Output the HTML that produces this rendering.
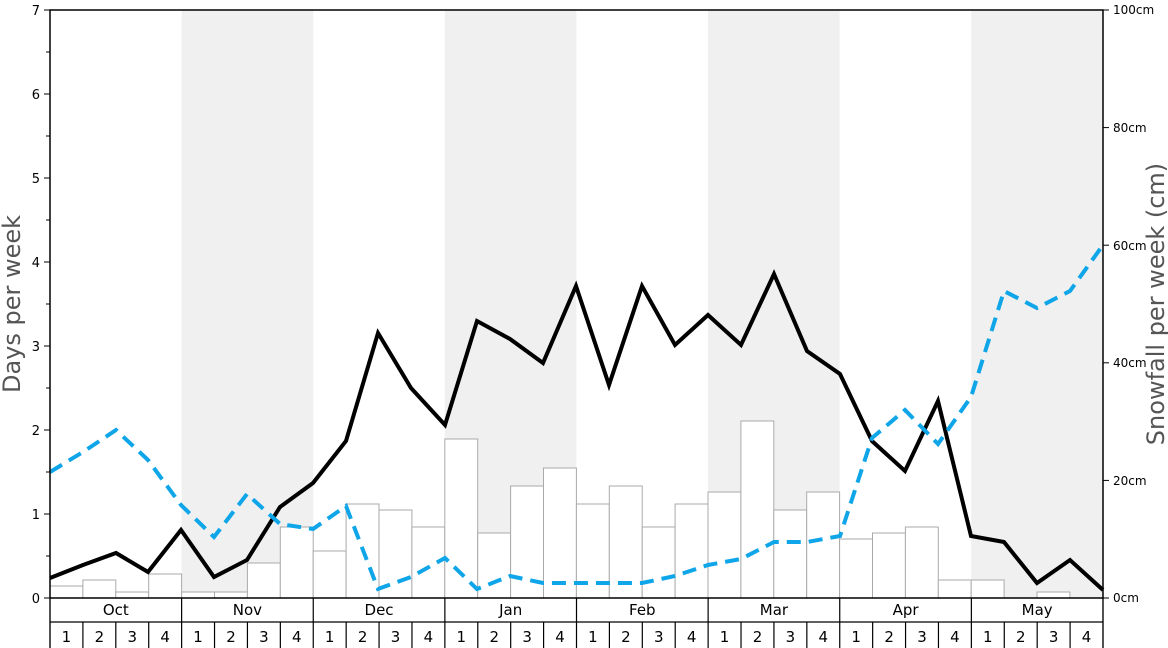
<!DOCTYPE html>
<html><head><meta charset="utf-8"><style>
body{margin:0;background:#fff}
svg{display:block;font-family:"DejaVu Sans","Liberation Sans",sans-serif}
</style></head><body>
<svg width="1168" height="648" viewBox="0 0 1168 648">
<rect x="0" y="0" width="1168" height="648" fill="#fff"/>
<g fill="#f0f0f0">
<rect x="181.6" y="10" width="131.6" height="588"/>
<rect x="444.8" y="10" width="131.6" height="588"/>
<rect x="708" y="10" width="131.6" height="588"/>
<rect x="971.2" y="10" width="131.8" height="588"/>
</g>
<g fill="#fff" stroke="#aaa" stroke-width="1">
<rect x="50" y="586" width="32.9" height="12"/>
<rect x="82.9" y="580" width="32.9" height="18"/>
<rect x="115.8" y="592" width="32.9" height="6"/>
<rect x="148.7" y="574" width="32.9" height="24"/>
<rect x="181.6" y="592" width="32.9" height="6"/>
<rect x="214.5" y="592" width="32.9" height="6"/>
<rect x="247.4" y="563" width="32.9" height="35"/>
<rect x="280.3" y="527" width="32.9" height="71"/>
<rect x="313.2" y="551" width="32.9" height="47"/>
<rect x="346.1" y="504" width="32.9" height="94"/>
<rect x="379" y="510" width="32.9" height="88"/>
<rect x="411.9" y="527" width="32.9" height="71"/>
<rect x="444.8" y="439" width="32.9" height="159"/>
<rect x="477.7" y="533" width="32.9" height="65"/>
<rect x="510.6" y="486" width="32.9" height="112"/>
<rect x="543.5" y="468" width="32.9" height="130"/>
<rect x="576.4" y="504" width="32.9" height="94"/>
<rect x="609.3" y="486" width="32.9" height="112"/>
<rect x="642.2" y="527" width="32.9" height="71"/>
<rect x="675.1" y="504" width="32.9" height="94"/>
<rect x="708" y="492" width="32.9" height="106"/>
<rect x="740.9" y="421" width="32.9" height="177"/>
<rect x="773.8" y="510" width="32.9" height="88"/>
<rect x="806.7" y="492" width="32.9" height="106"/>
<rect x="839.6" y="539" width="32.9" height="59"/>
<rect x="872.5" y="533" width="32.9" height="65"/>
<rect x="905.4" y="527" width="32.9" height="71"/>
<rect x="938.3" y="580" width="32.9" height="18"/>
<rect x="971.2" y="580" width="32.9" height="18"/>
<rect x="1037" y="592" width="32.9" height="6"/>
</g>
<polyline fill="none" stroke="#000" stroke-width="4" stroke-linejoin="miter" points="50,578 83,565 116,553 148,572 181,530 214,577 247,560 280,507 313,483 346,441 378,333 411,388 445,425 477,321 510,339 543,363 576,286 609,385 642,286 675,345 708,315 741,345 774,274 807,351 840,374 872,441 905,471 938,401 971,536 1004,542 1037,583 1070,560 1103,590"/>
<polyline fill="none" stroke="#0ea5e9" stroke-width="4" stroke-dasharray="14,8" points="50,472 83,452 116,430 148,460 181,505 214,537 247,494 280,524 313,529 346,506 378,589 411,577 445,558 477,589 510,576 543,583 576,583 609,583 642,583 675,576 708,565 741,559 774,542 807,542 840,536 872,438 905,410 938,444 971,397 1004,291 1037,308 1070,291 1103,245"/>
<rect x="50" y="10" width="1053" height="588" fill="none" stroke="#000" stroke-width="1.5"/>
<g stroke="#000" stroke-width="1">
<line x1="44" y1="598" x2="50" y2="598"/><line x1="44" y1="514" x2="50" y2="514"/><line x1="44" y1="430" x2="50" y2="430"/><line x1="44" y1="346" x2="50" y2="346"/><line x1="44" y1="262" x2="50" y2="262"/><line x1="44" y1="178" x2="50" y2="178"/><line x1="44" y1="94" x2="50" y2="94"/><line x1="44" y1="10" x2="50" y2="10"/>
<line x1="46" y1="556" x2="50" y2="556"/><line x1="46" y1="472" x2="50" y2="472"/><line x1="46" y1="388" x2="50" y2="388"/><line x1="46" y1="304" x2="50" y2="304"/><line x1="46" y1="220" x2="50" y2="220"/><line x1="46" y1="136" x2="50" y2="136"/><line x1="46" y1="52" x2="50" y2="52"/>
<line x1="1103" y1="598" x2="1109" y2="598"/><line x1="1103" y1="480.4" x2="1109" y2="480.4"/><line x1="1103" y1="362.8" x2="1109" y2="362.8"/><line x1="1103" y1="245.2" x2="1109" y2="245.2"/><line x1="1103" y1="127.6" x2="1109" y2="127.6"/><line x1="1103" y1="10" x2="1109" y2="10"/>
</g>
<g font-size="13" text-anchor="end" fill="#000">
<text x="40" y="603">0</text><text x="40" y="519">1</text><text x="40" y="435">2</text><text x="40" y="351">3</text><text x="40" y="267">4</text><text x="40" y="183">5</text><text x="40" y="99">6</text><text x="40" y="15">7</text>
</g>
<g font-size="12" fill="#000">
<text x="1113" y="602">0cm</text><text x="1113" y="485">20cm</text><text x="1113" y="367">40cm</text><text x="1113" y="250">60cm</text><text x="1113" y="132">80cm</text><text x="1113" y="14">100cm</text>
</g>
<text transform="translate(20,304) rotate(-90)" font-size="24" fill="#555" text-anchor="middle">Days per week</text>
<text transform="translate(1164,304) rotate(-90)" font-size="24" fill="#555" text-anchor="middle">Snowfall per week (cm)</text>
<g stroke="#000" stroke-width="1.2" fill="none">
<line x1="50" y1="622" x2="1103" y2="622"/>
<line x1="50" y1="598" x2="50" y2="648"/><line x1="1103" y1="598" x2="1103" y2="648"/>
</g>
<g stroke="#000" stroke-width="1.2" id="ticks"></g>
<g id="labels" font-size="15" text-anchor="middle" fill="#000"></g>
<script>
var ns="http://www.w3.org/2000/svg",t=document.getElementById("ticks"),l=document.getElementById("labels");
var m=["Oct","Nov","Dec","Jan","Feb","Mar","Apr","May"],w=32.906;
for(var i=0;i<=32;i++){var x=50+i*w;var ln=document.createElementNS(ns,"line");ln.setAttribute("x1",x);ln.setAttribute("x2",x);ln.setAttribute("y1",i%4==0?598:622);ln.setAttribute("y2",648);t.appendChild(ln);}
for(var i=0;i<32;i++){var tx=document.createElementNS(ns,"text");tx.setAttribute("x",50+(i+.5)*w);tx.setAttribute("y",642);tx.textContent=(i%4)+1;l.appendChild(tx);}
for(var j=0;j<8;j++){var tx=document.createElementNS(ns,"text");tx.setAttribute("x",50+(j*4+2)*w);tx.setAttribute("y",615);tx.textContent=m[j];l.appendChild(tx);}
</script>
</svg>
</body></html>
